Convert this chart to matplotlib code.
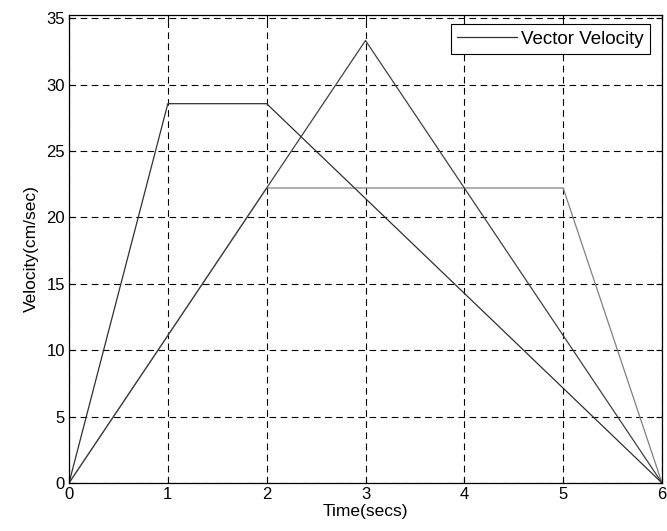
import matplotlib
matplotlib.use("Agg")
import matplotlib.pyplot as plt
import numpy as np

# velocity profiles (cm/sec) vs time (secs)
t_a = [0, 1, 2, 6]
v_a = [0, 28.57, 28.57, 0]
t_b = [0, 3, 6]
v_b = [0, 33.33, 0]
t_c = [0, 2, 5, 6]
v_c = [0, 22.22, 22.22, 0]

xticks = [0, 1, 2, 3, 4, 5, 6]
yticks = [0, 5, 10, 15, 20, 25, 30, 35]

plt.rcParams['font.family'] = ['Liberation Sans', 'DejaVu Sans']

W, H = 667, 531
fig = plt.figure(figsize=(W/100, H/100), dpi=100)
ax = fig.add_axes([69/W, 1 - 483/H, (662-69)/W, (483-15)/H])

ax.plot(t_c, v_c, color='#808080', lw=0.9)
ax.plot(t_b, v_b, color='#404040', lw=0.9)
ax.plot(t_a, v_a, color='#303030', lw=0.9, label='Vector Velocity')

ax.set_xlim(0, 6)
ax.set_ylim(0, 35.25)
ax.set_xticks(xticks)
ax.set_yticks(yticks)
ax.grid(True, color='black', linestyle=(0, (6, 4)), lw=0.8)
ax.tick_params(direction='in', top=True, right=True, labelsize=12, length=4, width=0.8, pad=3)
for s in ax.spines.values():
    s.set_linewidth(0.9)

ax.set_xlabel('Time(secs)', fontsize=12.5, labelpad=1)
ax.set_ylabel('Velocity(cm/sec)', fontsize=12.5, labelpad=5)

leg = ax.legend(loc='upper right', bbox_to_anchor=(650/W, 1 - 24/H),
                bbox_transform=fig.transFigure, fontsize=13.5, fancybox=False,
                framealpha=1, edgecolor='black', borderaxespad=0, borderpad=0.35,
                handlelength=3.2, handletextpad=0.2)
leg.get_frame().set_linewidth(0.8)

fig.savefig('out.png', dpi=100)
